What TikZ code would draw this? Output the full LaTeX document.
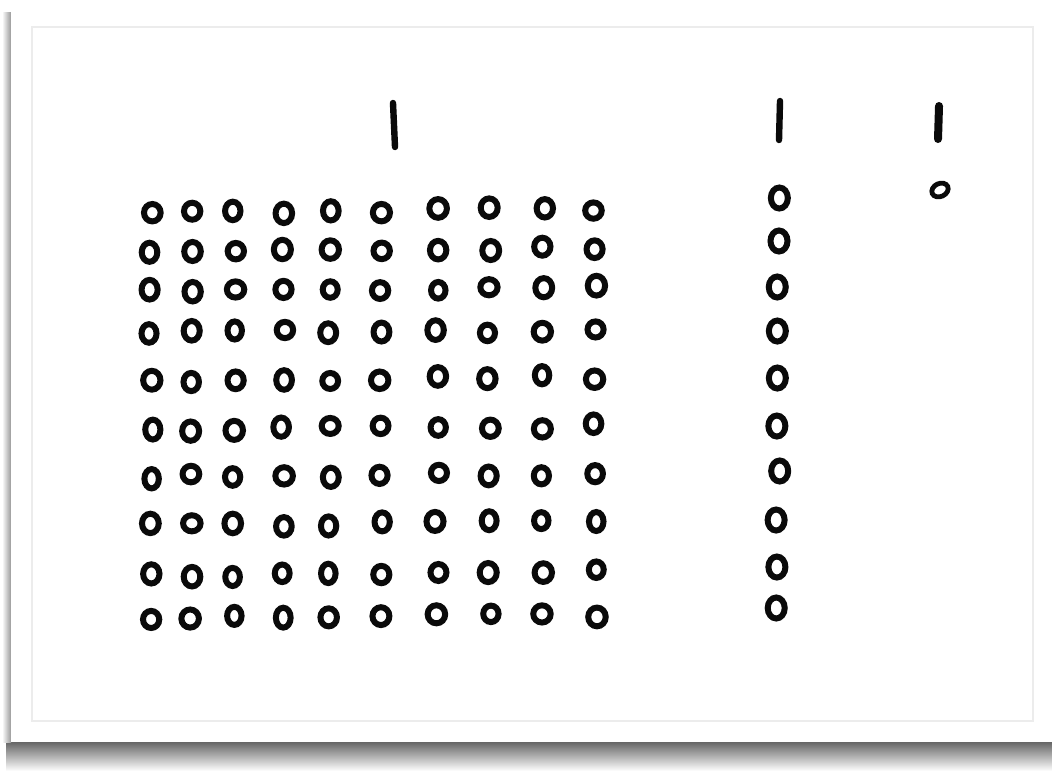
\documentclass[tikz,border=0pt]{standalone}
\usetikzlibrary{calc}
\definecolor{inkCol}{RGB}{10,10,10}
\definecolor{edgeCol}{RGB}{236,236,236}
\tikzset{
  ring/.style={draw=inkCol,line width=3pt},
  tally/.style={draw=inkCol,line width=3.2pt,line cap=round},
  paper/.style={fill=white,draw=none},
  frameline/.style={draw=edgeCol,line width=0.6pt},
}
\begin{document}
\begin{tikzpicture}[x=0.5pt,y=-0.5pt]
  \useasboundingbox (0,0) rectangle (1052,771);
  \fill[white] (0,0) rectangle (1052,771);
  % shadow of the sheet
  \shade[top color=black!60,bottom color=white] (6,742) rectangle (1052,771);
  \shade[left color=white,right color=black!40] (2,12) rectangle (11,742);
  \fill[paper] (11,5) rectangle (1052,742);
  \draw[frameline] (32,27) rectangle (1033,721);
  % tally strokes
  \draw[tally] (393,103) -- (395,147);
  \draw[tally] (780,101) -- (779,140);
  \draw[tally,line width=4pt] (939,106) -- (938,139);
  % ten by ten block
  \pgfmathsetseed{11}
  \foreach \y [count=\r] in {213,252,292,334,381,430,477,526,576,619}
    \foreach \x [count=\c] in {151,192,234,283,329,381,437,489,543,595} {
      \pgfmathsetmacro{\dx}{2*rand}
      \pgfmathsetmacro{\dy}{2.5*rand-0.4*\c}
      \pgfmathsetmacro{\rx}{8+0.8*rand}
      \pgfmathsetmacro{\ry}{9+1*rand}
      \draw[ring] (\x+\dx,\y+\dy) ellipse [x radius=\rx,y radius=\ry];
    }
  % column of ten
  \foreach \y in {198,241,287,331,378,426,471,520,567,608} {
    \pgfmathsetmacro{\dx}{2*rand}
    \draw[ring] (778+\dx,\y) ellipse [x radius=8.5,y radius=10.5];
  }
  % single unit
  \draw[ring,line width=2.4pt,rotate around={25:(940,190)}] (940,190) ellipse [x radius=8.5,y radius=6.5];
\end{tikzpicture}
\end{document}
